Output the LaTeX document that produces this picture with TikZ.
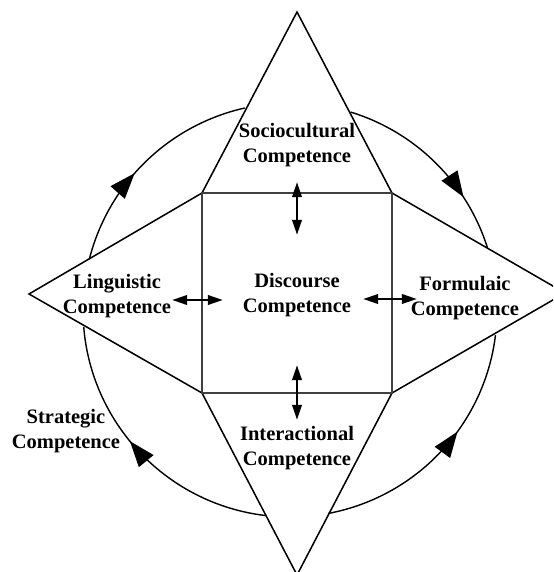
\documentclass[tikz,border=0pt]{standalone}
\usepackage{fontspec}
\setmainfont{Liberation Serif}
\usetikzlibrary{arrows.meta, decorations.markings}
\tikzset{
  comp/.style={align=center, inner sep=0pt, font=\bfseries\fontsize{17.5}{21}\selectfont},
  side/.style={line width=1.3pt, line join=miter},
  sqline/.style={line width=1.3pt, draw=black!75},
  twoway/.style={{Triangle[length=13pt,width=8pt]}-{Triangle[length=13pt,width=8pt]}, line width=2.3pt},
  cyc/.style={line width=1.2pt, postaction={decorate},
    decoration={markings, mark=at position #1 with {\arrow{Triangle[length=22pt,width=16pt]}}}},
}

\begin{document}
\begin{tikzpicture}[x=0.03cm, y=-0.03cm]
  \clip (0,0) rectangle (553,572);
  % square and the four triangles
  \coordinate (nw) at (202,193); \coordinate (ne) at (392,193);
  \coordinate (se) at (392,393); \coordinate (sw) at (202,393);
  \coordinate (ttop) at (297,12);  \coordinate (tright) at (565,293);
  \coordinate (tbot) at (297,575); \coordinate (tleft) at (29,294);
  \draw[side] (nw) -- (ttop) -- (ne) -- (tright) -- (se) -- (tbot) -- (sw) -- (tleft) -- cycle;
  \draw[sqline] (nw) rectangle (se);
  % circle pieces
  \coordinate (ctr) at (290,310);
  \draw[cyc=0.43] ([shift={(-165.8:207)}]ctr) arc[start angle=-165.8, end angle=-102.6, radius=207];
  \draw[cyc=0.72] ([shift={(-73:207)}]ctr) arc[start angle=-73, end angle=-17.5, radius=207];
  \draw[cyc=0.60] ([shift={(79.4:207)}]ctr) arc[start angle=79.4, end angle=7, radius=207];
  \draw[cyc=0.56] ([shift={(96.6:207)}]ctr) arc[start angle=96.6, end angle=175.3, radius=207];
  % labels
  \node[comp] (socio) at (297,145) {Sociocultural\\Competence};
  \node[comp] (disc) at (297,295) {Discourse\\Competence};
  \node[comp] (ling) at (117,296) {Linguistic\\Competence};
  \node[comp] (form) at (465,298) {Formulaic\\Competence};
  \node[comp] (inter) at (297,448) {Interactional\\Competence};
  \node[comp] (strat) at (66,431) {Strategic\\Competence};
  % two-way arrows
  \coordinate (l1) at (172,300); \coordinate (l2) at (223,300);
  \coordinate (r1) at (363,299); \coordinate (r2) at (417,299);
  \coordinate (u1) at (297,182); \coordinate (u2) at (297,235);
  \coordinate (d1) at (297,365); \coordinate (d2) at (297,420);
  \draw[twoway] (l1) -- (l2);
  \draw[twoway] (r1) -- (r2);
  \draw[twoway] (u1) -- (u2);
  \draw[twoway] (d1) -- (d2);
\end{tikzpicture}
\end{document}
